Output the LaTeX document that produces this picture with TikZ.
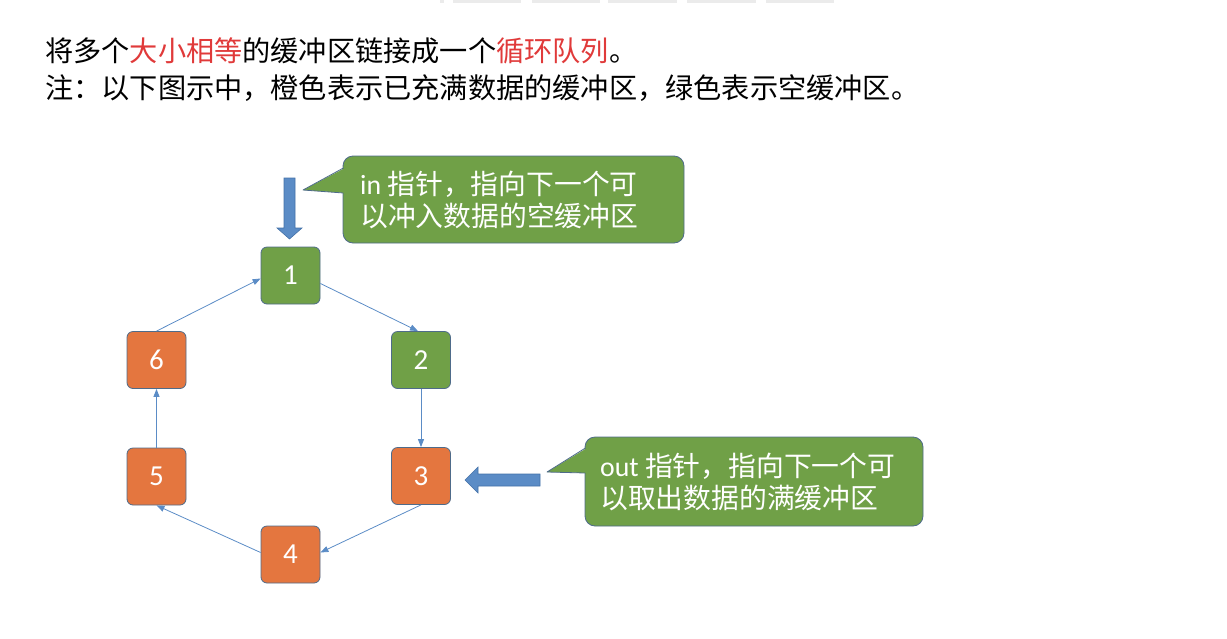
\documentclass[tikz,border=0pt]{standalone}
\usepackage{fontspec}
\setmainfont{Carlito}
\newfontfamily\cjk{Noto Sans CJK SC}
\usetikzlibrary{arrows.meta}
\definecolor{boxgreen}{HTML}{70A047}
\definecolor{boxorange}{HTML}{E4763F}
\definecolor{edgeblue}{HTML}{4E6B8A}
\definecolor{linkblue}{HTML}{5B8CC6}
\definecolor{fatblue}{HTML}{5B8CC6}
\definecolor{fatedge}{HTML}{4472A8}
\definecolor{hlred}{HTML}{E03A3A}
\tikzset{
  bufbox/.style={draw=edgeblue, line width=0.8pt, rounded corners=6pt, minimum width=59pt, minimum height=57pt, inner sep=0pt, text=white, font=\fontsize{29}{34}\selectfont},
  fullbox/.style={bufbox, fill=boxorange},
  emptybox/.style={bufbox, fill=boxgreen},
  link/.style={draw=linkblue, line width=0.8pt, -{Triangle[length=8pt,width=6pt]}},
  fatarrow/.style={fill=fatblue, draw=fatedge, line width=0.6pt},
  callout/.style={fill=boxgreen, draw=edgeblue, line width=0.8pt, rounded corners=10pt, inner sep=0pt},
  calltext/.style={anchor=base west, inner sep=0pt, text=white, font=\fontsize{27.8}{32}\selectfont},
  headtext/.style={anchor=base west, inner sep=0pt, text=black, font=\cjk\fontsize{28.2}{32}\selectfont},
}
\begin{document}
\begin{tikzpicture}[x=1pt,y=1pt]
\useasboundingbox (0,0) rectangle (1227,-638);
% faint remnants at top edge
\foreach \a/\b in {440/444,453/521,532/600,608/677,687/756,766/834}
  \fill[black!8] (\a,0) rectangle (\b,-3);
% heading text
\node[headtext] (h1) at (45,-61) {将多个\textcolor{hlred}{大小相等}的缓冲区链接成一个\textcolor{hlred}{循环队列}。};
\node[headtext] (h2) at (45,-98) {注：以下图示中，橙色表示已充满数据的缓冲区，绿色表示空缓冲区。};
% buffers
\node[emptybox] (n1) at (290.5,-275.5) {1};
\node[emptybox] (n2) at (421,-360) {2};
\node[fullbox]  (n3) at (421,-476) {3};
\node[fullbox]  (n4) at (290.5,-554.5) {4};
\node[fullbox]  (n5) at (156.5,-476.5) {5};
\node[fullbox]  (n6) at (156.5,-360) {6};
% ring links
\draw[link] ([yshift=-8pt]n1.east) -- ([xshift=-3pt]n2.north);
\draw[link] (n2.south) -- (n3.north);
\draw[link] (n3.south) -- ([yshift=2pt]n4.east);
\draw[link] ([yshift=2pt]n4.west) -- (n5.south);
\draw[link] (n5.north) -- (n6.south);
\draw[link] (n6.north) -- ([yshift=-3pt]n1.west);
% in callout
\node[callout, minimum width=341pt, minimum height=87pt] (c1) at (513.5,-199.5) {};
\fill[boxgreen] (345,-168) -- (303,-190) -- (345,-193) -- cycle;
\draw[edgeblue, line width=0.8pt, line join=round] (343.4,-168) -- (303,-190) -- (343.4,-193);
\node[calltext] (t1a) at (360,-194) {in {\cjk 指针，指向下一个可}};
\node[calltext] (t1b) at (360,-226) {\cjk 以冲入数据的空缓冲区};
% out callout
\node[callout, minimum width=338pt, minimum height=89pt] (c2) at (754,-481.5) {};
\fill[boxgreen] (587,-448) -- (547,-472) -- (587,-473) -- cycle;
\draw[edgeblue, line width=0.8pt, line join=round] (585.4,-448) -- (547,-472) -- (585.4,-473);
\node[calltext] (t2a) at (600,-476) {out {\cjk 指针，指向下一个可}};
\node[calltext] (t2b) at (600,-508) {\cjk 以取出数据的满缓冲区};
% fat pointer arrows
\draw[fatarrow] (284,-178) -- (295,-178) -- (295,-228) -- (302,-228) -- (289.5,-239) -- (277,-228) -- (284,-228) -- cycle;
\draw[fatarrow] (540,-474) -- (540,-486) -- (478,-486) -- (478,-493) -- (465,-480) -- (478,-467) -- (478,-474) -- cycle;
\end{tikzpicture}
\end{document}
